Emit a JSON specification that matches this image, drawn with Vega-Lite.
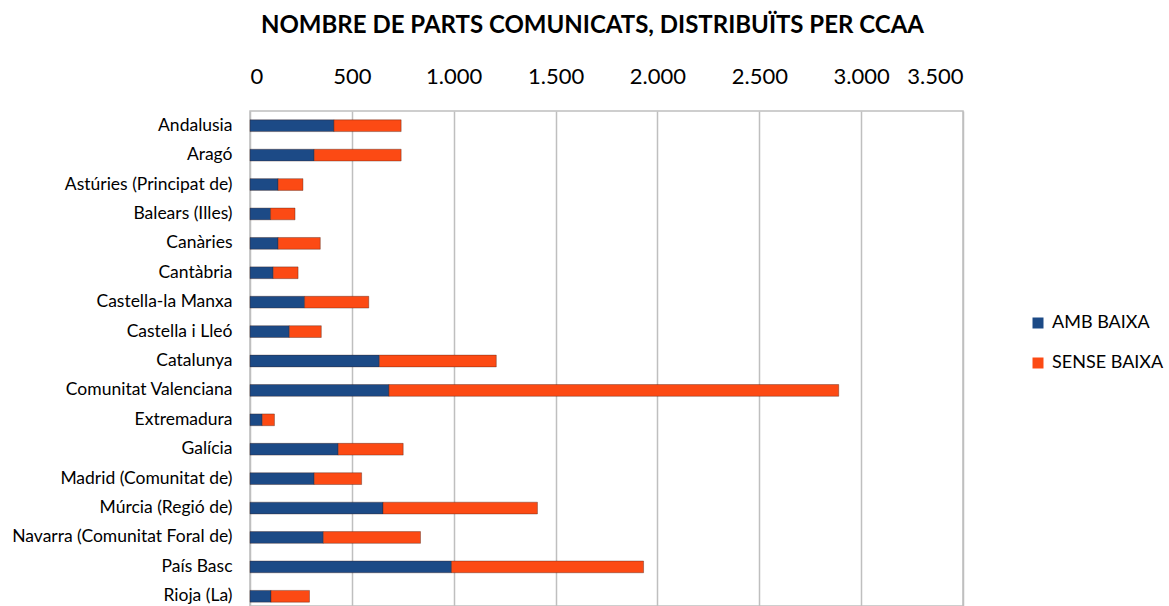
{
  "$schema": "https://vega.github.io/schema/vega-lite/v6.json",
  "autosize": {"type": "none"},
  "padding": {"left": 250, "top": 111, "right": 206, "bottom": 0},
  "width": 713,
  "height": 495,
  "background": "white",
  "title": {
    "text": "NOMBRE DE PARTS COMUNICATS, DISTRIBUÏTS PER CCAA",
    "font": "Lato",
    "fontSize": 24,
    "fontWeight": "bold",
    "color": "#000000",
    "anchor": "middle",
    "frame": "group",
    "dx": -14,
    "offset": 27
  },
  "data": {
    "values": [
      {"ccaa": "Andalusia", "tipus": "AMB BAIXA", "n": 412},
      {"ccaa": "Andalusia", "tipus": "SENSE BAIXA", "n": 330},
      {"ccaa": "Aragó", "tipus": "AMB BAIXA", "n": 315},
      {"ccaa": "Aragó", "tipus": "SENSE BAIXA", "n": 427},
      {"ccaa": "Astúries (Principat de)", "tipus": "AMB BAIXA", "n": 138},
      {"ccaa": "Astúries (Principat de)", "tipus": "SENSE BAIXA", "n": 122},
      {"ccaa": "Balears (Illes)", "tipus": "AMB BAIXA", "n": 101},
      {"ccaa": "Balears (Illes)", "tipus": "SENSE BAIXA", "n": 120},
      {"ccaa": "Canàries", "tipus": "AMB BAIXA", "n": 138},
      {"ccaa": "Canàries", "tipus": "SENSE BAIXA", "n": 207},
      {"ccaa": "Cantàbria", "tipus": "AMB BAIXA", "n": 114},
      {"ccaa": "Cantàbria", "tipus": "SENSE BAIXA", "n": 122},
      {"ccaa": "Castella-la Manxa", "tipus": "AMB BAIXA", "n": 268},
      {"ccaa": "Castella-la Manxa", "tipus": "SENSE BAIXA", "n": 315},
      {"ccaa": "Castella i Lleó", "tipus": "AMB BAIXA", "n": 193},
      {"ccaa": "Castella i Lleó", "tipus": "SENSE BAIXA", "n": 157},
      {"ccaa": "Catalunya", "tipus": "AMB BAIXA", "n": 635},
      {"ccaa": "Catalunya", "tipus": "SENSE BAIXA", "n": 574},
      {"ccaa": "Comunitat Valenciana", "tipus": "AMB BAIXA", "n": 682},
      {"ccaa": "Comunitat Valenciana", "tipus": "SENSE BAIXA", "n": 2208},
      {"ccaa": "Extremadura", "tipus": "AMB BAIXA", "n": 60},
      {"ccaa": "Extremadura", "tipus": "SENSE BAIXA", "n": 60},
      {"ccaa": "Galícia", "tipus": "AMB BAIXA", "n": 433},
      {"ccaa": "Galícia", "tipus": "SENSE BAIXA", "n": 319},
      {"ccaa": "Madrid (Comunitat de)", "tipus": "AMB BAIXA", "n": 315},
      {"ccaa": "Madrid (Comunitat de)", "tipus": "SENSE BAIXA", "n": 233},
      {"ccaa": "Múrcia (Regió de)", "tipus": "AMB BAIXA", "n": 653},
      {"ccaa": "Múrcia (Regió de)", "tipus": "SENSE BAIXA", "n": 758},
      {"ccaa": "Navarra (Comunitat Foral de)", "tipus": "AMB BAIXA", "n": 360},
      {"ccaa": "Navarra (Comunitat Foral de)", "tipus": "SENSE BAIXA", "n": 477},
      {"ccaa": "País Basc", "tipus": "AMB BAIXA", "n": 989},
      {"ccaa": "País Basc", "tipus": "SENSE BAIXA", "n": 943},
      {"ccaa": "Rioja (La)", "tipus": "AMB BAIXA", "n": 103},
      {"ccaa": "Rioja (La)", "tipus": "SENSE BAIXA", "n": 189}
    ]
  },
  "mark": {"type": "bar", "stroke": "#3a1a10", "strokeWidth": 0.6, "strokeOpacity": 0.6},
  "encoding": {
    "y": {
      "field": "ccaa",
      "type": "nominal",
      "sort": null,
      "scale": {"range": [0, 500], "paddingInner": 0.6, "paddingOuter": 0.3},
      "axis": {
        "title": null,
        "ticks": false,
        "domain": false,
        "labelPadding": 18,
        "labelLimit": 400,
        "labelFont": "Lato",
        "labelFontSize": 17.5,
        "labelColor": "#000000"
      }
    },
    "x": {
      "field": "n",
      "type": "quantitative",
      "stack": "zero",
      "scale": {"domain": [0, 3500], "nice": false},
      "axis": {
        "orient": "top",
        "title": null,
        "values": [0, 500, 1000, 1500, 2000, 2500, 3000, 3500],
        "labelExpr": "replace(format(datum.value, ','), ',', '.')",
        "ticks": false,
        "domain": false,
        "labelPadding": 23,
        "labelFont": "Lato",
        "labelFontSize": 22,
        "labelColor": "#000000",
        "grid": true,
        "gridColor": "#BFBFBF",
        "gridWidth": 1.5
      }
    },
    "color": {
      "field": "tipus",
      "type": "nominal",
      "scale": {"domain": ["AMB BAIXA", "SENSE BAIXA"], "range": ["#1C4A86", "#FC4A14"]},
      "legend": {
        "title": null,
        "orient": "none",
        "legendX": 779,
        "legendY": 203,
        "symbolType": "square",
        "symbolSize": 121,
        "symbolStrokeWidth": 0,
        "labelFont": "Lato",
        "labelFontSize": 18,
        "labelColor": "#000000",
        "labelOffset": 5,
        "rowPadding": 22
      }
    },
    "order": {"field": "tipus", "sort": "ascending"}
  },
  "config": {
    "view": {"stroke": "#BFBFBF", "strokeWidth": 1.5}
  }
}
